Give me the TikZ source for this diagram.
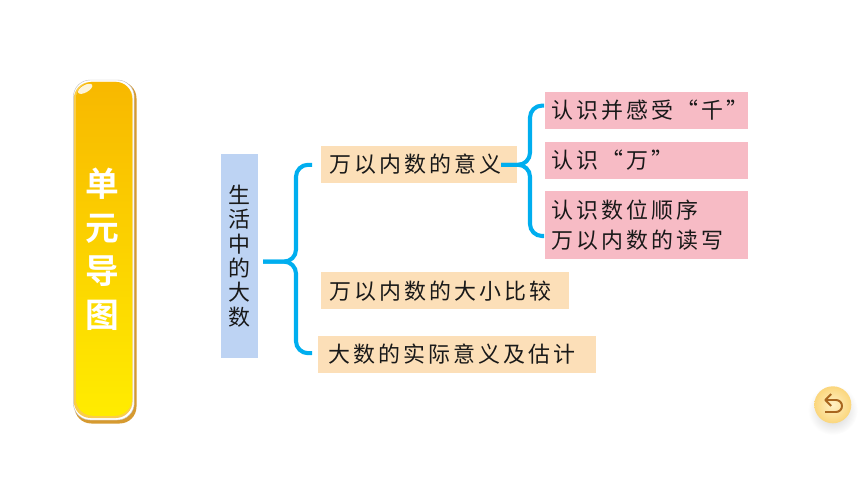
\documentclass[tikz,border=0pt]{standalone}
\usepackage{fontspec}
\usetikzlibrary{shapes.geometric,calc}
\setmainfont{Noto Sans CJK SC}
\newfontfamily\cjktext[LetterSpace=14]{Noto Sans CJK SC}
\newfontfamily\cjkbold[BoldFont={Noto Sans CJK SC Bold}]{Noto Sans CJK SC}
\definecolor{bluebox}{HTML}{BDD3F3}
\definecolor{peachbox}{HTML}{FCDFB8}
\definecolor{pinkbox}{HTML}{F7BBC5}
\definecolor{bracecol}{HTML}{00AEEF}
\definecolor{barbrown}{HTML}{D69A30}
\definecolor{bartop}{HTML}{F8B800}
\definecolor{barbot}{HTML}{FFEC00}
\definecolor{btnbrown}{HTML}{A8661F}
\definecolor{btnin}{HTML}{FFF1C6}
\definecolor{btnout}{HTML}{FBD67C}
\tikzstyle{testo} = [font=\cjktext\fontsize{15.6pt}{21.3pt}\selectfont,text=black!90,inner xsep=0.22cm,inner ysep=0pt,align=left]
\tikzstyle{nodoblu} = [rectangle,fill=bluebox,minimum width=0.925cm,minimum height=5.1cm,inner sep=0pt,align=center,font=\cjktext\fontsize{15.6pt}{17.4pt}\selectfont,text=black!90]
\tikzstyle{nodopesca} = [testo,rectangle,fill=peachbox,minimum height=0.925cm]
\tikzstyle{nodorosa} = [testo,rectangle,fill=pinkbox,inner xsep=0.17cm,text width=4.75cm]
\tikzstyle{graffa} = [bracecol,line width=2.9pt,rounded corners=0.3cm]
\tikzstyle{barra} = [rectangle,rounded corners=0.42cm,inner sep=0pt]

\begin{document}
\begin{tikzpicture}

% 1cm = 40 px of the reference
\useasboundingbox (0,0) rectangle (21.5,-12.1);

% yellow title bar
\node (barshadow) [barra,fill=barbrown,minimum width=1.55cm,minimum height=8.55cm,xshift=2.6375cm,yshift=-6.3125cm] {};
\node (barwhite)  [barra,fill=white,draw=black!25,line width=0.3pt,minimum width=1.52cm,minimum height=8.5cm,xshift=2.595cm,yshift=-6.25cm] {};
\node (barleft)   [barra,fill=bartop!70!white,minimum width=1.47cm,minimum height=8.4cm,xshift=2.58cm,yshift=-6.25cm] {};
\node (bar)       [barra,top color=bartop,bottom color=barbot,minimum width=1.4cm,minimum height=8.35cm,xshift=2.6cm,yshift=-6.22cm] {};
\node (title)     [text=white,align=center,inner sep=0pt,font=\cjkbold\bfseries\fontsize{24pt}{31.2pt}\selectfont,xshift=2.55cm,yshift=-6.23cm] {单\\元\\导\\图};
\node (glare) [ellipse,fill=white,fill opacity=0.85,minimum width=0.4cm,minimum height=0.18cm,inner sep=0pt,xshift=2.13cm,yshift=-2.22cm,rotate=30] {};

% boxes
\node (vita)  [nodoblu,xshift=5.9875cm,yshift=-6.4cm] {生\\活\\中\\的\\大\\数};

\node (dieci) [nodopesca,text width=4.46cm,xshift=10.475cm,yshift=-4.11cm] {万以内数的意义};
\node (cfr)   [nodopesca,text width=5.76cm,below of=dieci,node distance=3.16cm,xshift=0.65cm] {万以内数的大小比较};
\node (stima) [nodopesca,inner xsep=0.27cm,text width=6.41cm,below of=cfr,node distance=1.585cm,xshift=0.3cm] {大数的实际意义及估计};

\node (mille) [nodorosa,minimum height=0.925cm,xshift=16.16cm,yshift=-2.76cm] {认识并感受“千”};
\node (wan)   [nodorosa,minimum height=0.925cm,below of=mille,node distance=1.245cm] {认识“万”};
\node (ordine)[nodorosa,minimum height=1.69cm,below of=wan,node distance=1.625cm] {认识数位顺序\\万以内数的读写};

% left brace
\coordinate (a0) at (6.58,-6.54);
\coordinate (a1) at (7.4,-6.54);
\coordinate (a2) at (7.4,-4.12);
\coordinate (a3) at (7.8,-4.12);
\coordinate (a4) at (7.4,-8.83);
\coordinate (a5) at (7.8,-8.83);
\draw[graffa] (a0) -- (a1) -- (a2) -- (a3);
\draw[graffa] (a0) -- (a1) -- (a4) -- (a5);

% right brace
\coordinate (b0) at (12.53,-4.12);
\coordinate (b1) at (13.25,-4.12);
\coordinate (b2) at (13.25,-2.64);
\coordinate (b3) at (13.6,-2.64);
\coordinate (b4) at (13.25,-5.9);
\coordinate (b5) at (13.6,-5.9);
\draw[graffa] (b0) -- (b1) -- (b2) -- (b3);
\draw[graffa] (b0) -- (b1) -- (b4) -- (b5);

% back button
\node (ombra) [circle,inner color=black!22,outer color=white,minimum size=1.25cm,inner sep=0pt,xshift=20.82cm,yshift=-10.25cm] {};
\node (tasto) [circle,inner color=btnin,outer color=btnout,minimum size=0.925cm,inner sep=0pt,xshift=20.82cm,yshift=-10.12cm] {};
\coordinate (f0) at (20.63,-10.0);
\coordinate (f1) at (20.63,-10.3);
\draw[btnbrown,line width=1.4pt,line join=round]
  (f0) -- ++(0.27,0) arc (90:-90:0.15) -- (f1);
\draw[btnbrown,line width=1.4pt,line join=round]
  ($(f0)+(0.15,0.15)$) -- (f0) -- ($(f0)+(0.15,-0.15)$);
\end{tikzpicture}
\end{document}
